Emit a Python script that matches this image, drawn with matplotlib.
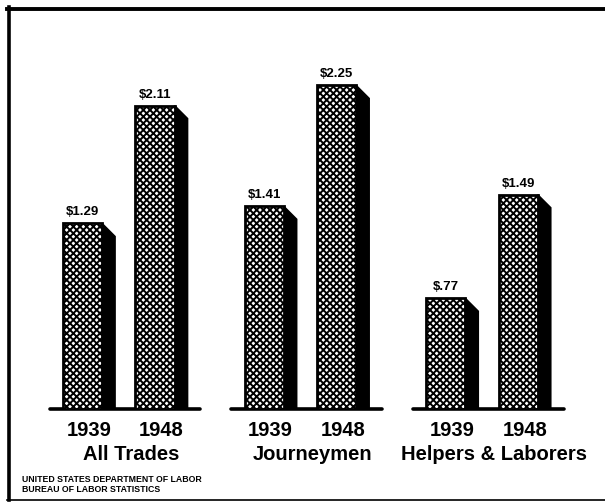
import matplotlib
matplotlib.use("Agg")
import matplotlib.pyplot as plt
from matplotlib.patches import Polygon
from matplotlib.lines import Line2D

plt.rcParams['font.family'] = ['Liberation Sans', 'DejaVu Sans']
plt.rcParams['hatch.linewidth'] = 1.4

groups = ['All Trades', 'Journeymen', 'Helpers & Laborers']
years = ['1939', '1948']
wages_1939 = [1.29, 1.41, 0.77]
wages_1948 = [2.11, 2.25, 1.49]
source = ['UNITED STATES DEPARTMENT OF LABOR', 'BUREAU OF LABOR STATISTICS']

W, H = 605, 503
fig = plt.figure(figsize=(W / 100, H / 100), dpi=100)
fig.patch.set_facecolor('white')

# axes laid over the figure so the baseline sits at ~409 px
ax = fig.add_axes([0, 1 - 409 / H, 1, 359.5 / H])
ax.set_xlim(-118.75 / 181.6, (W - 118.75) / 181.6)
ax.set_ylim(0, 2.5)
ax.axis('off')

off = 0.1996
bw = 0.215
dx = 13 / 181.6   # depth of the 3-d side
dy = 13 / 143.8

for i, g in enumerate(groups):
    ax.plot([i - 0.38, i + 0.45], [0, 0], color='black', lw=2.6,
            solid_capstyle='round', zorder=1, clip_on=False)
    for j, vals in enumerate([wages_1939, wages_1948]):
        xc = i + (-off if j == 0 else off)
        v = vals[i]
        xr = xc + bw / 2
        side = Polygon([(xr, v), (xr + dx, v - dy), (xr + dx, 0), (xr, 0)],
                       closed=True, facecolor='black', edgecolor='black',
                       lw=1.2, zorder=2)
        ax.add_patch(side)
        ax.bar(xc, v, width=bw, bottom=0, color='white', edgecolor='black',
               hatch='xxxxx', linewidth=2.0, zorder=3)
        if v < 1:
            lab = '$%s' % ('%.2f' % v)[1:]
        else:
            lab = '$%.2f' % v
        ax.text(xc, v + 0.035, lab, ha='center', va='bottom',
                fontsize=9.5, fontweight='bold', zorder=4)
        ax.text(xc + dx / 2, -21 / 143.8, years[j], ha='center', va='center',
                fontsize=14.5, fontweight='bold', clip_on=False)
    ax.text(i + dx / 2 + 0.03, -45 / 143.8, g, ha='center', va='center',
            fontsize=14.5, fontweight='bold', clip_on=False)

fig.text(22 / W, 1 - 479 / H, source[0], fontsize=6.3, fontweight='bold',
         va='center', ha='left')
fig.text(22 / W, 1 - 489 / H, source[1], fontsize=6.3, fontweight='bold',
         va='center', ha='left')

# frame of the original plate
fig.add_artist(Line2D([8.5 / W, 8.5 / W], [1 - 7 / H, 1 - 500 / H],
                      color='black', lw=2.6, transform=fig.transFigure))
fig.add_artist(Line2D([7 / W, 1], [1 - 8.5 / H, 1 - 8.5 / H],
                      color='black', lw=2.8, transform=fig.transFigure))
fig.add_artist(Line2D([7 / W, 1], [1 - 500 / H, 1 - 500 / H],
                      color='black', lw=1.2, transform=fig.transFigure))

fig.savefig('out.png', dpi=100, facecolor='white')
